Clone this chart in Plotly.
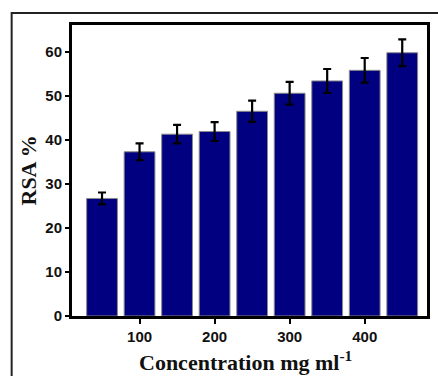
import plotly.graph_objects as go

concentration = [50, 100, 150, 200, 250, 300, 350, 400, 450]
rsa = [26.7, 37.3, 41.3, 41.9, 46.5, 50.6, 53.4, 55.8, 59.8]
rsa_err = [1.35, 1.9, 2.1, 2.15, 2.4, 2.6, 2.7, 2.8, 3.05]
x_ticks = [100, 200, 300, 400]
y_ticks = [0, 10, 20, 30, 40, 50, 60]

fig = go.Figure()
fig.add_trace(go.Bar(
    x=concentration, y=rsa, width=41,
    marker=dict(color="#000080", line=dict(color="#8a8a8a", width=1)),
    error_y=dict(type="data", array=rsa_err, color="black", thickness=2.2, width=4),
))

tickfont = dict(family="Liberation Sans, Arial", size=15, color="#111", weight="bold")
fig.update_layout(
    width=438, height=376,
    margin=dict(l=72, r=8, t=25, b=60),
    paper_bgcolor="white", plot_bgcolor="white",
    showlegend=False,
    xaxis=dict(range=[10, 483], tickvals=x_ticks, ticks="outside", ticklen=5, tickwidth=2,
               tickcolor="black", showline=True, linecolor="black", linewidth=3, mirror=True,
               showgrid=False, zeroline=False, tickfont=tickfont),
    yaxis=dict(range=[0, 66.1], tickvals=y_ticks, ticks="outside", ticklen=4, tickwidth=2,
               tickcolor="black", showline=True, linecolor="black", linewidth=3, mirror=True,
               showgrid=False, zeroline=False, tickfont=tickfont),
    shapes=[dict(type="rect", xref="paper", yref="paper", x0=-0.170, x1=1.3, y0=-0.4, y1=1.041,
                 line=dict(color="#222", width=2), layer="below")],
    annotations=[
        dict(text="RSA %", xref="paper", yref="paper", x=0, y=0.5, xshift=-44, textangle=-90,
             showarrow=False, xanchor="center", yanchor="middle",
             font=dict(family="Liberation Serif, Times New Roman", size=22, color="#111", weight="bold")),
        dict(text="Concentration mg ml<sup>-1</sup>", xref="paper", yref="paper", x=0.49, y=0,
             yshift=-45, showarrow=False, xanchor="center", yanchor="middle",
             font=dict(family="Liberation Serif, Times New Roman", size=22, color="#111", weight="bold")),
    ],
)
fig.write_html("out.html")
